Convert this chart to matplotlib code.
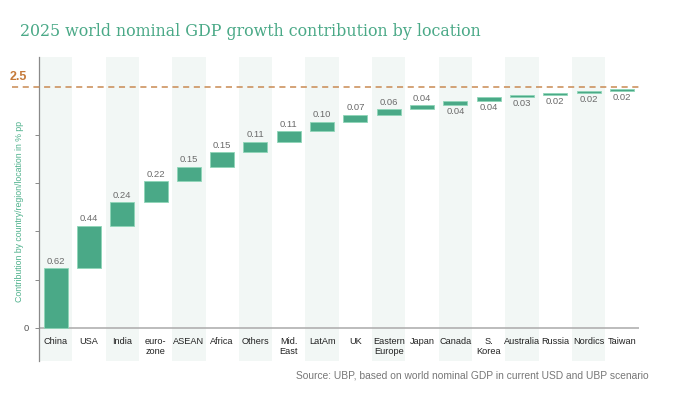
import matplotlib
matplotlib.use("Agg")
import matplotlib.pyplot as plt
import numpy as np

categories = ["China", "USA", "India", "euro-\nzone", "ASEAN", "Africa", "Others",
              "Mid.\nEast", "LatAm", "UK", "Eastern\nEurope", "Japan", "Canada",
              "S.\nKorea", "Australia", "Russia", "Nordics", "Taiwan"]
values = [0.62, 0.44, 0.24, 0.22, 0.15, 0.15, 0.11, 0.11, 0.10, 0.07, 0.06,
          0.04, 0.04, 0.04, 0.03, 0.02, 0.02, 0.02]
value_labels = ["0.62", "0.44", "0.24", "0.22", "0.15", "0.15", "0.11", "0.11",
                "0.10", "0.07", "0.06", "0.04", "0.04", "0.04", "0.03", "0.02",
                "0.02", "0.02"]
label_below = [False]*12 + [True]*6
total_line = 2.5
title = "2025 world nominal GDP growth contribution by location"
ylabel = "Contribution by country/region/location in % pp"
source = "Source: UBP, based on world nominal GDP in current USD and UBP scenario"

GREEN = "#4aa987"
EDGE = "#8fd6b8"
BROWN = "#c98a52"
BAND = "#f2f7f5"

W, H = 674, 398
fig = plt.figure(figsize=(W/100, H/100), dpi=100)
# axes: left 39, right 638.5, top 57, bottom 361
ax = fig.add_axes([39/W, 1-361/H, (638.5-39)/W, (361-57)/H])

n = len(values)
x = np.arange(n)
vals = np.array(values)
bottoms = np.concatenate([[0], np.cumsum(vals)[:-1]])
ymin, ymax = -0.345, 2.81
ax.set_xlim(-0.5, n-0.5)
ax.set_ylim(ymin, ymax)

for i in range(0, n, 2):
    ax.axvspan(i-0.5, i+0.5, color=BAND, zorder=0, lw=0)

ax.bar(x, vals, bottom=bottoms, width=0.72, color=GREEN, edgecolor=EDGE,
       linewidth=0.6, zorder=3)

for i in range(n):
    if label_below[i]:
        ax.text(x[i], bottoms[i] - 0.02, value_labels[i], ha="center", va="top",
                fontsize=6.8, color="#6b6b6b", family="Liberation Sans", zorder=4)
    else:
        ax.text(x[i], bottoms[i] + vals[i] + 0.025, value_labels[i], ha="center",
                va="bottom", fontsize=6.8, color="#6b6b6b", family="Liberation Sans", zorder=4)

ax.axhline(0, color="#b0b0b0", lw=1.2, zorder=2, xmin=0, xmax=1)

# dashed total line extending left beyond the axis
ax.plot([-1.3, n-0.5], [total_line, total_line], ls=(0, (4, 3)), color=BROWN,
        lw=1.1, clip_on=False, zorder=5)
ax.text(-1.38, total_line + 0.04, "2.5", ha="left", va="bottom", fontsize=9,
        color="#c57a3a", fontweight="bold", family="Liberation Sans")

for i, c in enumerate(categories):
    ax.text(x[i], -0.1, c, ha="center", va="top", fontsize=6.6, color="#222222",
            family="Liberation Sans", linespacing=1.15)

for s in ["top", "right", "bottom"]:
    ax.spines[s].set_visible(False)
ax.spines["left"].set_color("#8a8a8a")
ax.spines["left"].set_linewidth(0.9)
ax.set_xticks([])
ax.set_yticks([0, 0.5, 1.0, 1.5, 2.0])
ax.set_yticklabels(["0", "", "", "", ""])
ax.tick_params(axis="y", length=3, width=0.7, color="#8a8a8a", labelsize=6.8,
               labelcolor="#555555", pad=4)
for t in ax.get_yticklabels():
    t.set_family("Liberation Sans")

fig.text(20/W, 1-212/H, ylabel, rotation=90, ha="center", va="center",
         fontsize=6.3, color="#4db08b", family="Liberation Sans")

fig.text(20/W, 1-32/H, title, ha="left", va="center", fontsize=11.4,
         color="#4aa987", family="DejaVu Serif")

fig.text(649/W, 1-376/H, source, ha="right", va="center", fontsize=7.4,
         color="#777777", family="Liberation Sans")

fig.savefig("out.png", dpi=100, facecolor="white")
